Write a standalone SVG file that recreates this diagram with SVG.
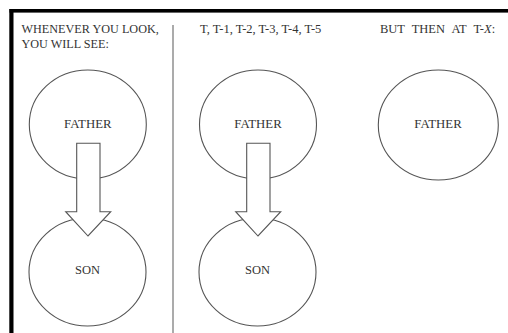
<svg xmlns="http://www.w3.org/2000/svg" width="508" height="333" viewBox="0 0 508 333">
<style>
.t{font-family:"Liberation Serif","Times New Roman",serif;font-size:12.5px;fill:#333}
.h{font-size:12.2px}
.n{font-size:12.8px}
.c{fill:none;stroke:#555;stroke-width:1.1}
.a{fill:#fff;stroke:#555;stroke-width:1.1;stroke-linejoin:miter}
</style>
<rect x="0" y="0" width="508" height="333" fill="#fff"/>
<g id="frame">
<rect x="9.5" y="9" width="498.5" height="3.6" fill="#000"/>
<rect x="9.3" y="9" width="4.2" height="324" fill="#000"/>
<line x1="173" y1="25" x2="173" y2="333" stroke="#666" stroke-width="1.1"/>
</g>
<g id="headers">
<text class="t h" x="21.5" y="33">WHENEVER YOU LOOK,</text>
<text class="t h" x="21.5" y="48">YOU WILL SEE:</text>
<text class="t" x="200" y="33">T, T-1, T-2, T-3, T-4, T-5</text>
<text class="t" x="380" y="33" word-spacing="4">BUT THEN AT T-<tspan font-style="italic">X</tspan>:</text>
</g>
<g id="father1">
<ellipse class="c" cx="87.8" cy="124.5" rx="58.5" ry="54.5"/>
<text class="t n" x="87.8" y="128.3" text-anchor="middle">FATHER</text>
</g>
<g id="son1">
<ellipse class="c" cx="87.5" cy="272" rx="58.5" ry="54"/>
<text class="t" x="87.5" y="274" text-anchor="middle">SON</text>
</g>
<g id="father2">
<ellipse class="c" cx="258" cy="124.5" rx="58.5" ry="54.5"/>
<text class="t n" x="258" y="128.3" text-anchor="middle">FATHER</text>
</g>
<g id="son2">
<ellipse class="c" cx="257.5" cy="272" rx="58.5" ry="54"/>
<text class="t" x="257.5" y="274" text-anchor="middle">SON</text>
</g>
<g id="father3">
<ellipse class="c" cx="438.3" cy="125" rx="60" ry="55"/>
<text class="t n" x="438" y="128.3" text-anchor="middle">FATHER</text>
</g>
<g id="connectors">
<polygon class="a" points="76.7,143.3 100,143.3 100,211.7 110.7,211.7 88,236 65.7,211.7 76.7,211.7"/>
<polygon class="a" points="246.7,143.3 270,143.3 270,211.7 280.7,211.7 258,236 235.7,211.7 246.7,211.7"/>
</g>
</svg>
